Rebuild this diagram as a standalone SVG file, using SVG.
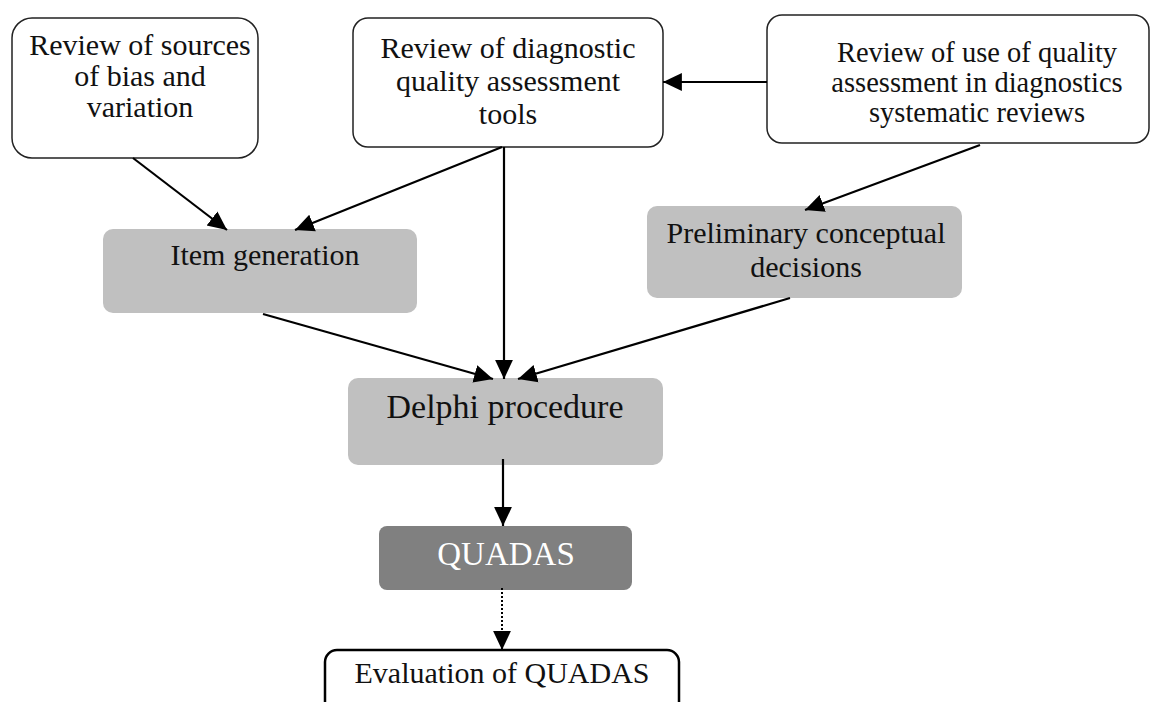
<svg xmlns="http://www.w3.org/2000/svg" width="1151" height="702" viewBox="0 0 1151 702">
<style>
text{font-family:"Liberation Serif","Tinos","Times New Roman","Noto Serif","DejaVu Serif",serif;font-size:30px;fill:#111;text-anchor:middle}
.wb{fill:#fff;stroke:#222;stroke-width:1.5}
.gb{fill:#c0c0c0;stroke:none}
.db{fill:#808080;stroke:none}
.ln{stroke:#000;stroke-width:2.2;fill:none}
.dot{stroke:#000;stroke-width:2;fill:none;stroke-dasharray:2 2}
.t3{font-size:28.5px}
</style>
<defs>
<marker id="ah" markerUnits="userSpaceOnUse" markerWidth="20" markerHeight="20" viewBox="0 0 18 18" refX="17" refY="9" orient="auto">
<path d="M0,1 L17,9 L0,17 Z" fill="#000"/>
</marker>
</defs>
<g id="n1"><rect class="wb" x="12" y="18" width="246" height="140" rx="20"/>
<text x="140" y="55">Review of sources</text><text x="140" y="86">of bias and</text><text x="140" y="117">variation</text></g>
<g id="n2"><rect class="wb" x="353" y="18" width="310" height="129" rx="15"/>
<text x="508" y="58">Review of diagnostic</text><text x="508" y="91">quality assessment</text><text x="508" y="124">tools</text></g>
<g id="n3"><rect class="wb" x="767" y="15" width="382" height="128" rx="15"/>
<text class="t3" x="977" y="62">Review of use of quality</text><text class="t3" x="977" y="92">assessment in diagnostics</text><text class="t3" x="977" y="122">systematic reviews</text></g>
<g id="n4"><rect class="gb" x="103" y="229" width="314" height="84" rx="10"/>
<text x="265" y="265">Item generation</text></g>
<g id="n5"><rect class="gb" x="647" y="206" width="315" height="92" rx="10"/>
<text x="806" y="243">Preliminary conceptual</text><text x="806" y="277">decisions</text></g>
<g id="n6"><rect class="gb" x="348" y="378" width="315" height="87" rx="10"/>
<text x="505" y="418" style="font-size:34px">Delphi procedure</text></g>
<g id="n7"><rect class="db" x="379" y="526" width="253" height="64" rx="8"/>
<text x="506" y="565" style="font-size:33px;fill:#fff">QUADAS</text></g>
<g id="n8"><rect x="325" y="650" width="354" height="70" rx="12" fill="#fff" stroke="#000" stroke-width="2.5"/>
<text x="502" y="683">Evaluation of QUADAS</text></g>
<g id="edges">
<line class="ln" x1="133" y1="158" x2="227" y2="230" marker-end="url(#ah)"/>
<line class="ln" x1="502" y1="147" x2="295" y2="230" marker-end="url(#ah)"/>
<line class="ln" x1="504" y1="147" x2="504" y2="379" marker-end="url(#ah)"/>
<line class="ln" x1="767" y1="82" x2="663" y2="82" marker-end="url(#ah)"/>
<line class="ln" x1="980" y1="145" x2="805" y2="210" marker-end="url(#ah)"/>
<line class="ln" x1="263" y1="314" x2="493" y2="379" marker-end="url(#ah)"/>
<line class="ln" x1="790" y1="298" x2="518" y2="379" marker-end="url(#ah)"/>
<line class="ln" x1="503" y1="459" x2="503" y2="526" marker-end="url(#ah)"/>
<line class="dot" x1="502" y1="588" x2="502" y2="650" marker-end="url(#ah)"/>
</g>
</svg>
